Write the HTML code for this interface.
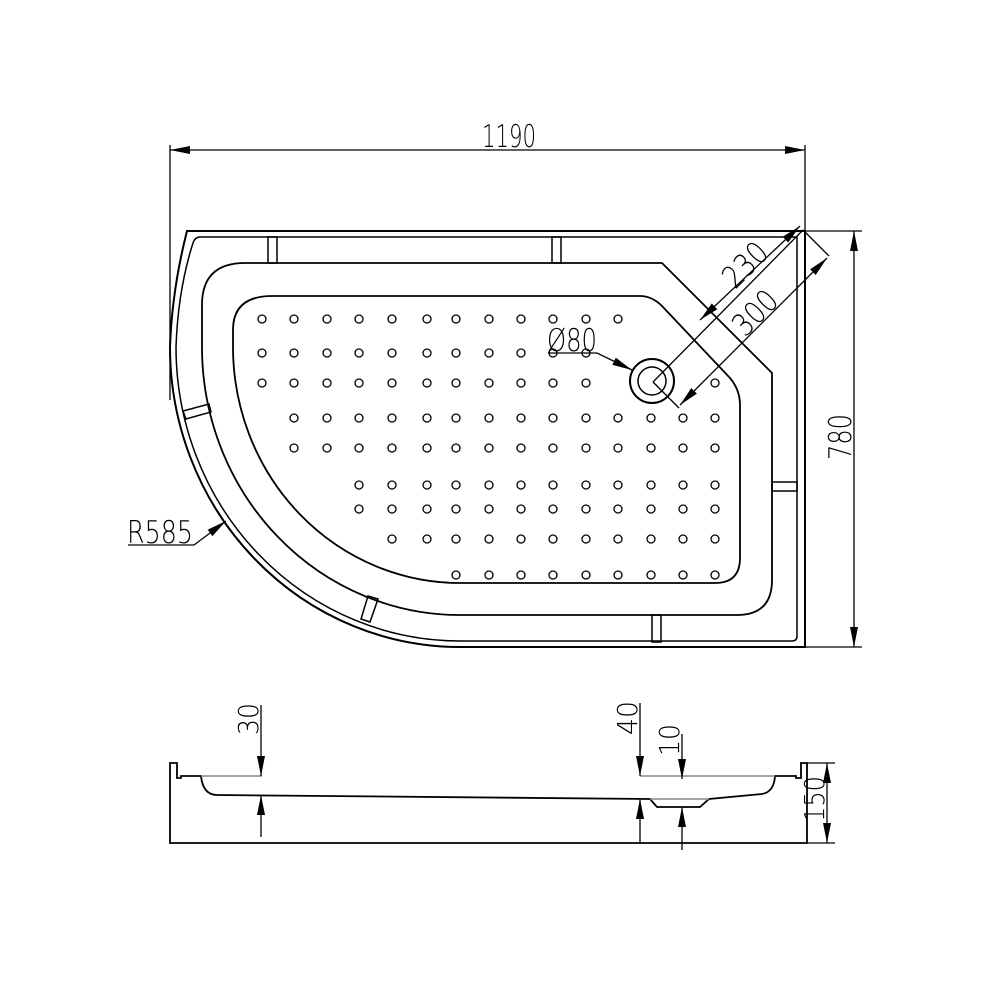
<!DOCTYPE html>
<html><head><meta charset="utf-8"><style>
html,body{margin:0;padding:0;background:#fff;}
svg{display:block;}
text{font-family:"DejaVu Sans","Liberation Sans",sans-serif;font-weight:200;fill:#000;}
</style></head><body>
<svg width="992" height="992" viewBox="0 0 992 992" xmlns="http://www.w3.org/2000/svg">
<defs>
<marker id="a" viewBox="0 0 20 8" refX="20" refY="4" markerWidth="20" markerHeight="8" markerUnits="userSpaceOnUse" orient="auto-start-reverse">
<path d="M0,0 L20,4 L0,8 Z" fill="#000"/></marker>
</defs>
<g fill="none" stroke="#000" stroke-width="1.5">
<!-- outer -->
<path d="M187,231 L805,231 L805,647 L460,647 A290,300 0 0 1 170,347 Q172,290 187,231 Z" stroke-width="2"/>
<path d="M200,237 L797,237 L797,636 Q797,641 792,641 L460,641 A284,294 0 0 1 176,347 Q178,290 193,243 Q195,237 200,237 Z"/>
<!-- middle tray -->
<path d="M245,263 L662,263 L772,373 L772,580 Q772,615 737,615 L460,615 A258,268 0 0 1 202,347 L202,305 Q202,263 245,263 Z" stroke-width="1.8"/>
<!-- floor -->
<path d="M272,296 L640,296 Q652,296 662,306 L730,378 Q740,390 740,405 L740,558 Q740,583 715,583 L460,583 A227,236 0 0 1 233,347 L233,330 Q233,296 272,296 Z" stroke-width="1.8"/>
<!-- support blocks -->
<rect x="268" y="237" width="9" height="26"/>
<rect x="552" y="237" width="9" height="26"/>
<rect x="772" y="482" width="25" height="9"/>
<rect x="652" y="615" width="9" height="27"/>
<path d="M183,411 L209,404 L211,412 L186,419 Z"/>
<path d="M368,596 L378,599 L370,622 L361,619 Z"/>
<!-- drain -->
<circle cx="652" cy="381" r="22" stroke-width="2"/>
<circle cx="652" cy="381" r="14"/>
</g>
<!-- dots -->
<g fill="none" stroke="#000" stroke-width="1.3">
<g id="dots"></g>
</g>
<g fill="none" stroke="#000" stroke-width="1.3">
<circle cx="262" cy="319" r="4"/><circle cx="294" cy="319" r="4"/><circle cx="327" cy="319" r="4"/><circle cx="359" cy="319" r="4"/><circle cx="392" cy="319" r="4"/><circle cx="427" cy="319" r="4"/><circle cx="456" cy="319" r="4"/><circle cx="489" cy="319" r="4"/><circle cx="521" cy="319" r="4"/><circle cx="553" cy="319" r="4"/><circle cx="586" cy="319" r="4"/><circle cx="618" cy="319" r="4"/>
<circle cx="262" cy="353" r="4"/><circle cx="294" cy="353" r="4"/><circle cx="327" cy="353" r="4"/><circle cx="359" cy="353" r="4"/><circle cx="392" cy="353" r="4"/><circle cx="427" cy="353" r="4"/><circle cx="456" cy="353" r="4"/><circle cx="489" cy="353" r="4"/><circle cx="521" cy="353" r="4"/><circle cx="553" cy="353" r="4"/><circle cx="586" cy="353" r="4"/>
<circle cx="262" cy="383" r="4"/><circle cx="294" cy="383" r="4"/><circle cx="327" cy="383" r="4"/><circle cx="359" cy="383" r="4"/><circle cx="392" cy="383" r="4"/><circle cx="427" cy="383" r="4"/><circle cx="456" cy="383" r="4"/><circle cx="489" cy="383" r="4"/><circle cx="521" cy="383" r="4"/><circle cx="553" cy="383" r="4"/><circle cx="586" cy="383" r="4"/><circle cx="715" cy="383" r="4"/>
<circle cx="294" cy="418" r="4"/><circle cx="327" cy="418" r="4"/><circle cx="359" cy="418" r="4"/><circle cx="392" cy="418" r="4"/><circle cx="427" cy="418" r="4"/><circle cx="456" cy="418" r="4"/><circle cx="489" cy="418" r="4"/><circle cx="521" cy="418" r="4"/><circle cx="553" cy="418" r="4"/><circle cx="586" cy="418" r="4"/><circle cx="618" cy="418" r="4"/><circle cx="651" cy="418" r="4"/><circle cx="683" cy="418" r="4"/><circle cx="715" cy="418" r="4"/>
<circle cx="294" cy="448" r="4"/><circle cx="327" cy="448" r="4"/><circle cx="359" cy="448" r="4"/><circle cx="392" cy="448" r="4"/><circle cx="427" cy="448" r="4"/><circle cx="456" cy="448" r="4"/><circle cx="489" cy="448" r="4"/><circle cx="521" cy="448" r="4"/><circle cx="553" cy="448" r="4"/><circle cx="586" cy="448" r="4"/><circle cx="618" cy="448" r="4"/><circle cx="651" cy="448" r="4"/><circle cx="683" cy="448" r="4"/><circle cx="715" cy="448" r="4"/>
<circle cx="359" cy="485" r="4"/><circle cx="392" cy="485" r="4"/><circle cx="427" cy="485" r="4"/><circle cx="456" cy="485" r="4"/><circle cx="489" cy="485" r="4"/><circle cx="521" cy="485" r="4"/><circle cx="553" cy="485" r="4"/><circle cx="586" cy="485" r="4"/><circle cx="618" cy="485" r="4"/><circle cx="651" cy="485" r="4"/><circle cx="683" cy="485" r="4"/><circle cx="715" cy="485" r="4"/>
<circle cx="359" cy="509" r="4"/><circle cx="392" cy="509" r="4"/><circle cx="427" cy="509" r="4"/><circle cx="456" cy="509" r="4"/><circle cx="489" cy="509" r="4"/><circle cx="521" cy="509" r="4"/><circle cx="553" cy="509" r="4"/><circle cx="586" cy="509" r="4"/><circle cx="618" cy="509" r="4"/><circle cx="651" cy="509" r="4"/><circle cx="683" cy="509" r="4"/><circle cx="715" cy="509" r="4"/>
<circle cx="392" cy="539" r="4"/><circle cx="427" cy="539" r="4"/><circle cx="456" cy="539" r="4"/><circle cx="489" cy="539" r="4"/><circle cx="521" cy="539" r="4"/><circle cx="553" cy="539" r="4"/><circle cx="586" cy="539" r="4"/><circle cx="618" cy="539" r="4"/><circle cx="651" cy="539" r="4"/><circle cx="683" cy="539" r="4"/><circle cx="715" cy="539" r="4"/>
<circle cx="456" cy="575" r="4"/><circle cx="489" cy="575" r="4"/><circle cx="521" cy="575" r="4"/><circle cx="553" cy="575" r="4"/><circle cx="586" cy="575" r="4"/><circle cx="618" cy="575" r="4"/><circle cx="651" cy="575" r="4"/><circle cx="683" cy="575" r="4"/><circle cx="715" cy="575" r="4"/>
</g>
<!-- dimensions plan -->
<g fill="none" stroke="#000" stroke-width="1.3">
<line x1="170" y1="145" x2="170" y2="400"/>
<line x1="805" y1="145" x2="805" y2="231"/>
<line x1="170" y1="150" x2="805" y2="150" marker-start="url(#a)" marker-end="url(#a)"/>
<line x1="805" y1="231" x2="862" y2="231"/>
<line x1="805" y1="647" x2="862" y2="647"/>
<line x1="854" y1="231" x2="854" y2="647" marker-start="url(#a)" marker-end="url(#a)"/>
<!-- diagonal -->
<line x1="653" y1="382" x2="803" y2="230"/>
<line x1="700" y1="320" x2="800" y2="226" marker-start="url(#a)" marker-end="url(#a)"/>
<line x1="803" y1="230" x2="829" y2="256"/>
<line x1="653" y1="382" x2="679" y2="408"/>
<line x1="680" y1="405" x2="827" y2="258" marker-start="url(#a)" marker-end="url(#a)"/>
<!-- Ø80 leader -->
<polyline points="548,353 597,353 632,370" marker-end="url(#a)"/>
<!-- R585 leader -->
<polyline points="128,545 194,545 226,521" marker-end="url(#a)"/>
</g>
<text x="482" y="147" font-size="31" textLength="54" lengthAdjust="spacingAndGlyphs">1190</text>
<text transform="translate(851,460) rotate(-90)" font-size="31" textLength="46" lengthAdjust="spacingAndGlyphs">780</text>
<text transform="translate(735,290) rotate(-45)" font-size="31" textLength="50" lengthAdjust="spacingAndGlyphs">230</text>
<text transform="translate(745,338) rotate(-45)" font-size="31" textLength="50" lengthAdjust="spacingAndGlyphs">300</text>
<text x="547" y="351" font-size="31" textLength="50" lengthAdjust="spacingAndGlyphs">Ø80</text>
<text x="127" y="543" font-size="31" textLength="66" lengthAdjust="spacingAndGlyphs">R585</text>
<!-- section -->
<g fill="none" stroke="#000" stroke-width="1.5">
<path d="M170,843 L170,763 L177,763 L177,778 L181,778 L181,776 L201,776 Q203,795 217,795 L650,799 L657,807 L700,807 L709,799 L762,794 Q774,792 775,776 L796,776 L796,778 L801,778 L801,763 L807,763 L807,843 Z" stroke-width="1.8"/>
<line x1="201" y1="776" x2="262" y2="776" stroke="#888"/>
<line x1="640" y1="776" x2="775" y2="776" stroke="#888"/>
<line x1="650" y1="799" x2="709" y2="799" stroke="#888"/>
</g>
<g fill="none" stroke="#000" stroke-width="1.3">
<line x1="261" y1="705" x2="261" y2="776" marker-end="url(#a)"/>
<line x1="261" y1="837" x2="261" y2="795" marker-end="url(#a)"/>
<line x1="640" y1="703" x2="640" y2="776" marker-end="url(#a)"/>
<line x1="640" y1="843" x2="640" y2="799" marker-end="url(#a)"/>
<line x1="682" y1="734" x2="682" y2="779" marker-end="url(#a)"/>
<line x1="682" y1="850" x2="682" y2="807" marker-end="url(#a)"/>
<line x1="807" y1="763" x2="835" y2="763"/>
<line x1="807" y1="843" x2="835" y2="843"/>
<line x1="827" y1="763" x2="827" y2="843" marker-start="url(#a)" marker-end="url(#a)"/>
</g>
<text transform="translate(258,735) rotate(-90)" font-size="28" textLength="32" lengthAdjust="spacingAndGlyphs">30</text>
<text transform="translate(637,735) rotate(-90)" font-size="28" textLength="34" lengthAdjust="spacingAndGlyphs">40</text>
<text transform="translate(679,756) rotate(-90)" font-size="28" textLength="32" lengthAdjust="spacingAndGlyphs">10</text>
<text transform="translate(824,822) rotate(-90)" font-size="28" textLength="46" lengthAdjust="spacingAndGlyphs">150</text>
</svg>
</body></html>
